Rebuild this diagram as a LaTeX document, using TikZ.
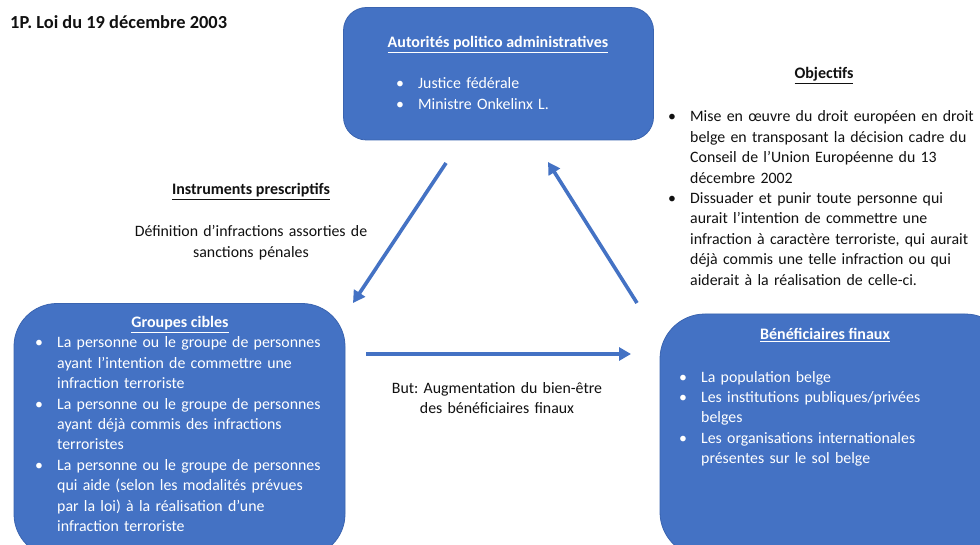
\documentclass[tikz,border=0pt]{standalone}
\usepackage{fontspec}
\setmainfont{Carlito}
\frenchspacing
\usetikzlibrary{arrows.meta}
\definecolor{boxblue}{HTML}{4472C4}
\definecolor{boxedge}{HTML}{3A64B0}
\definecolor{arrowblue}{HTML}{4472C4}
\definecolor{txt}{HTML}{111111}
\newcommand\bul{\makebox[22pt][l]{•}}
\newcommand\ind{\hspace*{22pt}}
\begin{document}
\begin{tikzpicture}[x=1pt,y=-1pt,
  box/.style={draw=boxedge, line width=0.8pt, fill=boxblue, inner sep=0pt, outer sep=0pt},
  body/.style={font=\fontsize{15.85}{20.4}\selectfont, inner sep=0pt, align=left, text width=420pt, anchor=base west},
  heading/.style={font=\bfseries\fontsize{16}{20.4}\selectfont, inner sep=0pt, anchor=base},
  plain/.style={font=\fontsize{15.85}{20.4}\selectfont, inner sep=0pt, align=center, text width=320pt, anchor=base},
  conn/.style={draw=arrowblue, line width=3.6pt, -{Triangle[length=12pt,width=13pt]}}
]
\useasboundingbox (0,0) rectangle (980,545);
\clip (0,0) rectangle (980,545);
\fill[white] (0,0) rectangle (980,545);

% title
\node[heading, anchor=base west, text=txt, font=\bfseries\fontsize{18.4}{22}\selectfont] (title) at (10,29) {1P. Loi du 19 décembre 2003};

% top box
\draw[box, rounded corners=23pt] (343.5,7.5) rectangle (653.5,140) node[pos=.5] (topbox) {};
\node[heading, text=white] (toptitle) at (498,48) {\underline{Autorités politico administratives}};
\node[body, text=white] (toplist) at (396,89) {\bul Justice fédérale\\ \bul Ministre Onkelinx L.};

% left box
\draw[box, rounded corners=43pt] (14,303.5) rectangle (345,557) node[pos=.5] (leftbox) {};
\node[heading, text=white] (lefttitle) at (180,328) {\underline{Groupes cibles}};
\node[body, text=white] (leftlist) at (35,348) {\bul La personne ou le groupe de personnes\\
\ind ayant l’intention de commettre une\\
\ind infraction terroriste\\
\bul La personne ou le groupe de personnes\\
\ind ayant déjà commis des infractions\\
\ind terroristes\\
\bul La personne ou le groupe de personnes\\
\ind qui aide (selon les modalités prévues\\
\ind par la loi) à la réalisation d’une\\
\ind infraction terroriste};

% right box
\draw[box, rounded corners=45pt] (660,314) rectangle (1010,557) node[pos=.5] (rightbox) {};
\node[heading, text=white] (righttitle) at (825,340) {\underline{Bénéficiaires finaux}};
\node[body, text=white] (rightlist) at (679,382) {\bul La population belge\\
\bul Les institutions publiques/privées\\
\ind belges\\
\bul Les organisations internationales\\
\ind présentes sur le sol belge};

% objectifs
\node[heading, text=txt] (objtitle) at (824,79) {\underline{Objectifs}};
\node[body, text=txt] (objlist) at (668,122) {\bul Mise en œuvre du droit européen en droit\\
\ind belge en transposant la décision cadre du\\
\ind Conseil de l’Union Européenne du 13\\
\ind décembre 2002\\
\bul Dissuader et punir toute personne qui\\
\ind aurait l’intention de commettre une\\
\ind infraction à caractère terroriste, qui aurait\\
\ind déjà commis une telle infraction ou qui\\
\ind aiderait à la réalisation de celle-ci.};

% instruments
\node[heading, text=txt] (insttitle) at (251,195) {\underline{Instruments prescriptifs}};
\node[plain, text=txt] (insttext) at (251,237) {Définition d’infractions assorties de\\ sanctions pénales};

% but
\node[plain, text=txt] (buttext) at (497,393) {But: Augmentation du bien-être\\ des bénéficiaires finaux};

% arrows
\coordinate (a1s) at (446,163);
\coordinate (a1e) at (353,303);
\coordinate (a2s) at (637,303);
\coordinate (a2e) at (548,162);
\coordinate (a3s) at (366,354);
\coordinate (a3e) at (631,354);
\draw[conn] (a1s) -- (a1e);
\draw[conn] (a2s) -- (a2e);
\draw[conn] (a3s) -- (a3e);
\end{tikzpicture}
\end{document}
